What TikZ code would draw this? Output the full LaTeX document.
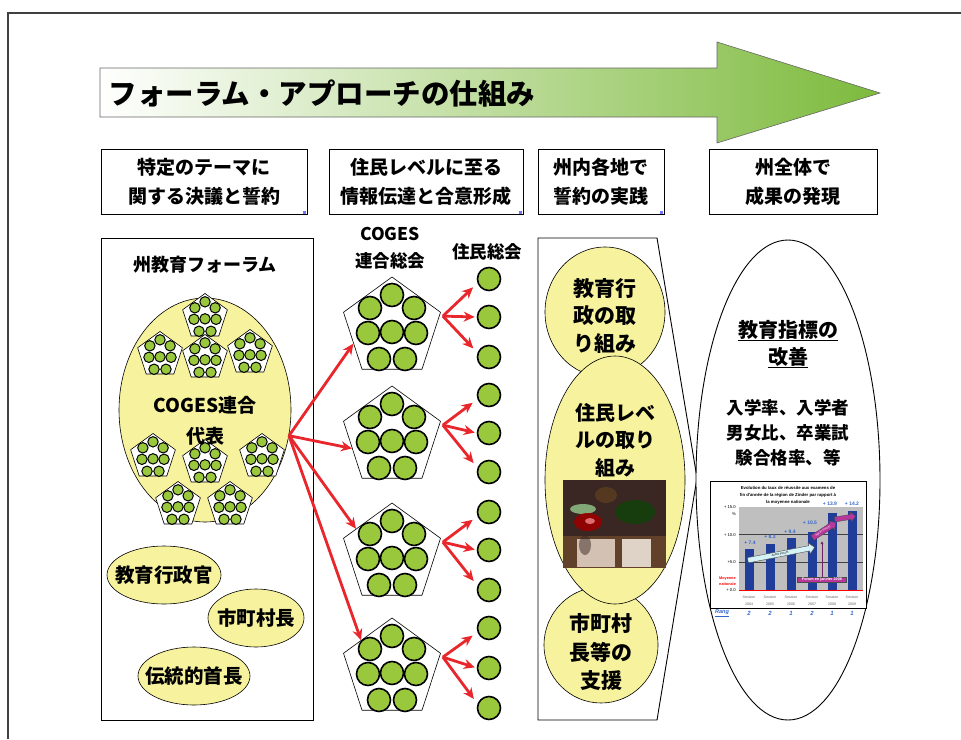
\documentclass[tikz,border=0pt]{standalone}
\usepackage{fontspec}
\setmainfont{Noto Sans CJK JP}
\newfontfamily\arialfont{Liberation Sans}
\usepackage{xcolor}
\usepackage{tikz}
\usetikzlibrary{shapes.geometric,shapes.arrows,arrows.meta,calc}

\definecolor{arrowgreen}{HTML}{7DBA3C}
\definecolor{paleyellow}{HTML}{F7F29D}
\definecolor{ballgreen}{HTML}{99C83C}
\definecolor{arrowred}{HTML}{E8262B}
\definecolor{barblue}{HTML}{1F3D99}
\definecolor{labelblue}{HTML}{3366CC}
\definecolor{forummag}{HTML}{B8379C}
\definecolor{paleblue}{HTML}{D5F3F7}
\definecolor{photodark}{HTML}{3A2622}

\begin{document}
\begin{tikzpicture}[x=1pt,y=-1pt,
	hdr/.style={draw=black,line width=0.8pt,fill=white,minimum height=65pt,align=center,inner sep=0pt,font=\fontsize{19}{29}\selectfont\bfseries},
	yel/.style={ellipse,draw=black,line width=0.6pt,fill=paleyellow,inner sep=0pt},
	ytxt/.style={align=center,inner sep=0pt},
	pent/.style={regular polygon,regular polygon sides=5,draw=black,fill=white,inner sep=0pt,line width=0.6pt},
	ball/.style={draw=black,fill=ballgreen},
	jm/.style={circle,draw=black,line width=1.6pt,fill=ballgreen,minimum size=23pt,inner sep=0pt},
	redarr/.style={-{Stealth[length=11pt,width=10pt]},arrowred,line width=2.8pt},
	tiny/.style={font=\arialfont\fontsize{4.2}{5}\selectfont,inner sep=0pt}]
	\useasboundingbox (0,0) rectangle (961,739);
	% frame
	\draw[line width=1.5pt,black!75] (8,739) -- (8,13) -- (961,13);
	% title arrow
	\shadedraw[draw=black!60,line width=0.6pt,left color=white,middle color=arrowgreen!40!white,right color=arrowgreen]
		(100,68) -- (717,68) -- (717,42) -- (880,93) -- (717,143) -- (717,117) -- (100,117) -- cycle;
	\node[anchor=west,font=\fontsize{28.5}{34}\selectfont\bfseries] (ttl) at (105,94) {フォーラム・アプローチの仕組み};
	% headers
	\node[hdr,minimum width=206pt] (h1) at (204,182) {特定のテーマに\\関する決議と誓約};
	\node[hdr,minimum width=194pt] (h2) at (426,182) {住民レベルに至る\\情報伝達と合意形成};
	\node[hdr,minimum width=126pt] (h3) at (601,182) {州内各地で\\誓約の実践};
	\node[hdr,minimum width=168pt] (h4) at (793,182) {州全体で\\成果の発現};
	\foreach \h in {h1,h2,h3}
		\fill[blue!55] (\h.south east) ++(-4,-4) rectangle ++(3,3);

	% left panel
	\draw[line width=0.9pt] (101,238) rectangle (313,720);
	\node[font=\fontsize{18}{22}\selectfont\bfseries] (lt) at (205,265) {州教育フォーラム};
	\node[yel,minimum width=172pt,minimum height=224pt] (forum) at (205,410) {};
	\foreach \px/\py [count=\i] in {205/317,160/355,205/358,250/353,153/457,205/463,262/457,178/505,230/505}{
		\node[pent,minimum size=47pt] (rep\i) at (\px,\py) {};
		\foreach \dx/\dy in {0/-33,-22/-20,22/-20,-24/5,0/4,24/5,-13/31,13/31}
			\draw[ball,line width=1pt] ({\px+0.46*\dx},{\py+0.46*\dy}) circle (5.2pt);
	}
	\node[ytxt,font=\fontsize{19}{31}\selectfont\bfseries] (forumtxt) at (205,421) {COGES連合\\代表};
	\node[yel,minimum width=114pt,minimum height=58pt] (gov) at (164,575) {};
	\node[ytxt,font=\fontsize{19.5}{23}\selectfont\bfseries] (govtxt) at (gov) {教育行政官};
	\node[yel,minimum width=96pt,minimum height=58pt] (mayor) at (256,618) {};
	\node[ytxt,font=\fontsize{19.5}{23}\selectfont\bfseries] (mayortxt) at (mayor) {市町村長};
	\node[yel,minimum width=112pt,minimum height=58pt] (chief) at (194,676) {};
	\node[ytxt,font=\fontsize{19.5}{23}\selectfont\bfseries] (chieftxt) at (chief) {伝統的首長};

	% middle column
	\node[ytxt,font=\fontsize{17.5}{27}\selectfont\bfseries] (cogt) at (390,248) {COGES\\連合総会};
	\node[ytxt,font=\fontsize{17.5}{21}\selectfont\bfseries] (jmt) at (487,252) {住民総会};
	\foreach \py [count=\i] in {328,437,554,669}{
		\node[pent,minimum size=102pt] (coges\i) at (392,\py) {};
		\foreach \dx/\dy in {0/-33,-22/-20,22/-20,-24/5,0/4,24/5,-13/31,13/31}
			\draw[ball,line width=1.6pt] ({392+\dx},{\py+\dy}) circle (11.5pt);
	}
	\foreach \y [count=\i] in {279,317,357,395,433,472,512,550,590,628,668,708}
		\node[jm] (jm\i) at (489,\y) {};
	\foreach \i in {1,...,4}{
		\pgfmathtruncatemacro\ja{3*\i-2}
		\pgfmathtruncatemacro\jb{3*\i-1}
		\pgfmathtruncatemacro\jc{3*\i}
		\draw[redarr,shorten >=6pt] ([xshift=2pt,yshift=-4pt]coges\i.corner 5) -- (jm\ja.200);
		\draw[redarr,shorten >=2pt] ([xshift=2pt,yshift=-4pt]coges\i.corner 5) -- (jm\jb.west);
		\draw[redarr,shorten >=6pt] ([xshift=2pt,yshift=-4pt]coges\i.corner 5) -- (jm\jc.160);
	}
	\foreach \i/\ang in {1/202,2/196,3/145,4/137}
		\draw[redarr] (forum.-17) -- (coges\i.\ang);

	% practice panel
	\draw[line width=0.9pt] (538,238) -- (657,238) -- (697,478) -- (657,720) -- (538,720) -- cycle;
	\node[yel,minimum width=120pt,minimum height=130pt] (adm) at (605,312) {};
	\node[yel,minimum width=114pt,minimum height=116pt] (sup) at (601,645) {};
	\node[yel,minimum width=140pt,minimum height=248pt] (res) at (615,480) {};
	\node[ytxt,font=\fontsize{21}{27.5}\selectfont\bfseries] (admtxt) at (605,316) {教育行\\政の取\\り組み};
	\node[ytxt,font=\fontsize{20}{27.5}\selectfont\bfseries] (restxt) at (615,440) {住民レベ\\ルの取り\\組み};
	\node[ytxt,font=\fontsize{21}{28.5}\selectfont\bfseries] (suptxt) at (601,652) {市町村\\長等の\\支援};
	% photo
	\fill[photodark] (563,480) rectangle (666,568);
	\fill[photodark!70!brown] (563,536) rectangle (666,568);
	\fill[black!20!brown!30,opacity=0.9] (577,539) rectangle (615,567);
	\fill[black!15!brown!20,opacity=0.9] (622,539) rectangle (651,567);
	\fill[green!30!black,opacity=0.6] (635,512) ellipse (20pt and 12pt);
	\fill[white!70!green,opacity=0.6] (583,509) ellipse (13pt and 5pt);
	\fill[red!60!black,opacity=0.9] (588,522) ellipse (14pt and 9pt);
	\fill[white!60!red,opacity=0.7] (590,521) ellipse (5pt and 3pt);
	\fill[brown!50!black,opacity=0.7] (606,495) ellipse (11pt and 8pt);
	\fill[photodark,opacity=0.5] (585,545) ellipse (6pt and 10pt);

	% result ellipse
	\node[ellipse,draw=black,line width=0.9pt,fill=white,minimum width=184pt,minimum height=480pt,inner sep=0pt] (goal) at (788,480) {};
	\node[ytxt,font=\fontsize{20}{27}\selectfont\bfseries] (goalt) at (788,344) {\underline{教育指標の}\\\underline{改善}};
	\node[ytxt,font=\fontsize{17.5}{25}\selectfont\bfseries] (goaltxt) at (788,433) {入学率、入学者\\男女比、卒業試\\験合格率、等};

	% chart
	\draw[line width=0.8pt,fill=white] (710,481) rectangle (866,608);
	\node[ytxt,font=\arialfont\bfseries\fontsize{4.3}{7}\selectfont] (ctitle) at (788,495) {Evolution du taux de réussite aux examens de\\fin d'année de la région de Zinder par rapport à\\la moyenne nationale};
	\fill[black!25] (739,507) rectangle (863,590);
	\draw[black!75,line width=0.6pt] (739,534.7) -- (863,534.7) (739,562.3) -- (863,562.3);
	\foreach \bx/\v in {749/7.4,770/8.3,791/9.4,812/10.5,832/13.9,852/14.2}
		\fill[barblue] ({\bx-4.5},590) rectangle ({\bx+4.5},{590-5.53*\v});
	\draw[red,line width=0.8pt] (739,590) -- (863,590);
	\foreach \lx/\ly/\t [count=\i] in {750/543/+ 7.4,770/537/+ 8.3,790/532/+ 9.4,810/523/+ 10.5,830/504/+ 13.9,852/504/+ 14.2}
		\node[tiny,labelblue,font=\arialfont\bfseries\fontsize{5}{6}\selectfont] (val\i) at (\lx,\ly) {\t};
	\foreach \ly/\t [count=\i] in {507/+ 15.0,534.7/+ 10.0,562.3/+5.0,590/+ 0.0}
		\node[tiny,anchor=east] (yl\i) at (736,\ly) {\t};
	\node[tiny,anchor=east] (pct) at (736,514) {\%};
	\node[tiny,align=left,red,anchor=west,font=\arialfont\bfseries\fontsize{3.8}{5.5}\selectfont] (moy) at (719,581) {Moyenne\\nationale};
	\foreach \bx/\yr [count=\i] in {749/2004,770/2005,791/2006,812/2007,832/2008,852/2009}
		\node[tiny,align=center,black!60,font=\arialfont\fontsize{3.6}{7}\selectfont] (ses\i) at (\bx,600.5) {Session\\\yr};
	\node[tiny,labelblue,font=\arialfont\bfseries\itshape\fontsize{5.5}{6}\selectfont] (rang) at (722,613) {\underline{Rang}};
	\foreach \bx/\r [count=\i] in {749/2,770/2,791/1,812/2,832/1,852/1}
		\node[tiny,labelblue,font=\arialfont\bfseries\itshape\fontsize{6}{7}\selectfont] (rk\i) at (\bx,613) {\r};
	\node[single arrow,draw=black!70,fill=paleblue,line width=0.4pt,rotate=11,minimum height=68pt,inner sep=1.4pt,single arrow head extend=3pt,font=\arialfont\fontsize{3}{3.5}\selectfont] (avant) at (780,554) {Avant Forum};
	\draw[-{Latex[length=3pt,width=3pt]},forummag!60!black,line width=1pt] (822,577) -- (822,541);
	\node[single arrow,draw=black!70,fill=forummag,line width=0.4pt,rotate=33,minimum height=28pt,inner sep=1.2pt,single arrow head extend=2.5pt,font=\arialfont\fontsize{3}{3.5}\selectfont,text=white] (apres) at (823,531) {Après Forum};
	\node[single arrow,draw=black!70,fill=forummag,line width=0.4pt,rotate=9,minimum height=21pt,inner sep=1.2pt,single arrow head extend=2.5pt,font=\arialfont\fontsize{3}{3.5}\selectfont] (apres2) at (844,518) {\phantom{A}};
	\node[fill=forummag,draw=black!70,line width=0.3pt,text=white,inner sep=0.8pt,minimum width=49pt,font=\arialfont\bfseries\fontsize{3.8}{4.5}\selectfont] (fbox) at (822,580) {Forum en janvier 2008};
\end{tikzpicture}
\end{document}
